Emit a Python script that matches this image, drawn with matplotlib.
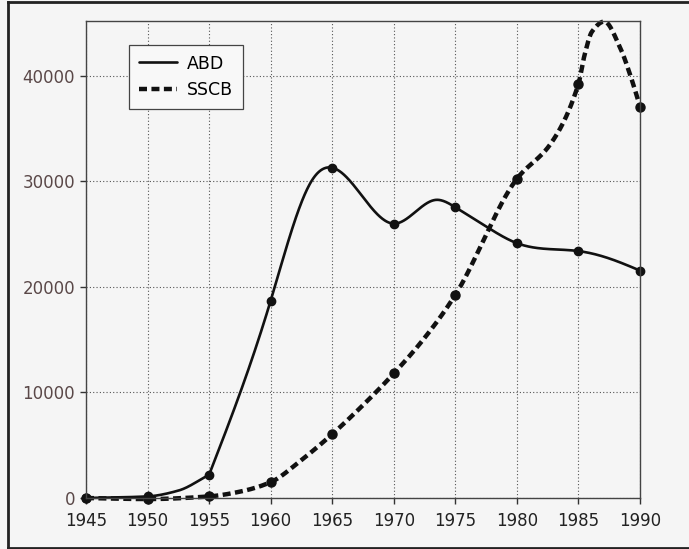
import numpy as np
import matplotlib
matplotlib.use("Agg")
import matplotlib.pyplot as plt

# data points (markers)
years = [1945, 1950, 1955, 1960, 1965, 1970, 1975, 1980, 1985, 1990]
abd = [0, 150, 2200, 18700, 31300, 26000, 27550, 24150, 23400, 21550]
sscb = [0, -100, 150, 1500, 6050, 11800, 19250, 30250, 39250, 37100]

# smooth curve readings (data points plus in-between readings)
abd_early_x = [1945, 1950, 1952.5, 1955]
abd_early_y = [0, 150, 700, 2200]
abd_late_x = [1955, 1960, 1963.3, 1965, 1970, 1973.4, 1975,
              1977.3, 1980, 1985, 1987.5, 1990]
abd_late_y = [2200, 18700, 30000, 31300, 26000, 28250, 27550,
              25880, 24150, 23400, 22700, 21550]
sscb_curve_x = [1945, 1950, 1955, 1957.5, 1960, 1962.5, 1965, 1967.5, 1970, 1972.5,
                1975, 1980, 1982.7, 1985, 1985.5, 1986.1, 1987.1,
                1988.4, 1989.2, 1990]
sscb_curve_y = [0, -100, 150, 600, 1500, 3600, 6050, 8800, 11800, 15170,
                19250, 30250, 33500, 39250, 42000, 44200, 45150,
                42630, 40100, 37100]

xticks = [1945, 1950, 1955, 1960, 1965, 1970, 1975, 1980, 1985, 1990]
yticks = [0, 10000, 20000, 30000, 40000]


def natural_spline(x, y, n=400):
    x = np.asarray(x, float)
    y = np.asarray(y, float)
    m = len(x)
    h = np.diff(x)
    A = np.zeros((m, m))
    b = np.zeros(m)
    A[0, 0] = 1
    A[-1, -1] = 1
    for i in range(1, m - 1):
        A[i, i - 1] = h[i - 1]
        A[i, i] = 2 * (h[i - 1] + h[i])
        A[i, i + 1] = h[i]
        b[i] = 6 * ((y[i + 1] - y[i]) / h[i] - (y[i] - y[i - 1]) / h[i - 1])
    M = np.linalg.solve(A, b)
    xs = np.linspace(x[0], x[-1], n)
    idx = np.clip(np.searchsorted(x, xs) - 1, 0, m - 2)
    x0, x1 = x[idx], x[idx + 1]
    hh = x1 - x0
    t0 = x1 - xs
    t1 = xs - x0
    ys = (M[idx] * t0 ** 3 / (6 * hh) + M[idx + 1] * t1 ** 3 / (6 * hh)
          + (y[idx] / hh - M[idx] * hh / 6) * t0
          + (y[idx + 1] / hh - M[idx + 1] * hh / 6) * t1)
    return xs, ys


def pchip(x, y, n=600):
    x = np.asarray(x, float)
    y = np.asarray(y, float)
    h = np.diff(x)
    d = np.diff(y) / h
    m = np.zeros_like(y)
    for k in range(1, len(x) - 1):
        if d[k - 1] * d[k] <= 0:
            m[k] = 0.0
        else:
            w1 = 2 * h[k] + h[k - 1]
            w2 = h[k] + 2 * h[k - 1]
            m[k] = (w1 + w2) / (w1 / d[k - 1] + w2 / d[k])
    m[0] = d[0]
    m[-1] = d[-1]
    xs = np.linspace(x[0], x[-1], n)
    idx = np.clip(np.searchsorted(x, xs) - 1, 0, len(x) - 2)
    hh = h[idx]
    t = (xs - x[idx]) / hh
    h00 = 2 * t ** 3 - 3 * t ** 2 + 1
    h10 = t ** 3 - 2 * t ** 2 + t
    h01 = -2 * t ** 3 + 3 * t ** 2
    h11 = t ** 3 - t ** 2
    ys = h00 * y[idx] + h10 * hh * m[idx] + h01 * y[idx + 1] + h11 * hh * m[idx + 1]
    return xs, ys


bg = "#f5f5f5"
fig = plt.figure(figsize=(6.89, 5.49), dpi=100, facecolor=bg)
ax = fig.add_axes([0.1248, 0.0929, 0.8041, 0.8688])
ax.set_facecolor(bg)

xa, ya = pchip(abd_early_x, abd_early_y, 150)
xb, yb = natural_spline(abd_late_x, abd_late_y, 700)
xs = np.concatenate([xa, xb[1:]])
ys = np.concatenate([ya, yb[1:]])
ax.plot(xs, ys, color="#111111", lw=1.9, solid_capstyle="round", label="ABD", clip_on=False)
ax.plot(years, abd, "o", color="#111111", ms=6, clip_on=False)

xs2, ys2 = pchip(sscb_curve_x, sscb_curve_y, 900)
ax.plot(xs2, ys2, color="#111111", lw=3.2, ls=(0, (1.8, 1.0)), dash_capstyle="butt",
        label="SSCB", clip_on=False)
ax.plot(years, sscb, "o", color="#111111", ms=6.5, clip_on=False)

ax.set_xlim(1945, 1990)
ax.set_ylim(0, 45200)
ax.set_xticks(xticks)
ax.set_yticks(yticks)
ax.set_xticklabels([str(v) for v in xticks], fontsize=12, color="#222222", family="DejaVu Sans")
ax.set_yticklabels([str(v) for v in yticks], fontsize=12, color="#5a4848", family="DejaVu Sans")
ax.tick_params(axis="both", direction="out", length=4, width=1, color="#333333")
ax.tick_params(axis="x", pad=6)
ax.tick_params(axis="y", pad=4)
ax.grid(True, ls=(0, (1, 2)), color="#555555", lw=0.8)
for s in ax.spines.values():
    s.set_color("#444444")
    s.set_linewidth(1.0)

leg = ax.legend(loc="upper left", bbox_to_anchor=(0.0776, 0.9497), borderaxespad=0,
                fontsize=12.5, frameon=True, fancybox=False, handlelength=2.2,
                borderpad=0.55, labelspacing=0.5, handletextpad=0.6)
leg.get_frame().set_edgecolor("#444444")
leg.get_frame().set_facecolor("#f8f8f8")
leg.get_frame().set_alpha(1)
leg.get_frame().set_linewidth(0.9)

# outer frame of the page scan
fig.add_artist(plt.Line2D([8 / 689, 1], [1 - 1.5 / 549, 1 - 1.5 / 549], transform=fig.transFigure, color="#222222", lw=2))
fig.add_artist(plt.Line2D([8 / 689, 1], [1.5 / 549, 1.5 / 549], transform=fig.transFigure, color="#222222", lw=2))
fig.add_artist(plt.Line2D([8 / 689, 8 / 689], [1.5 / 549, 1 - 1.5 / 549], transform=fig.transFigure, color="#222222", lw=2))

fig.savefig("out.png", dpi=100, facecolor=fig.get_facecolor())
